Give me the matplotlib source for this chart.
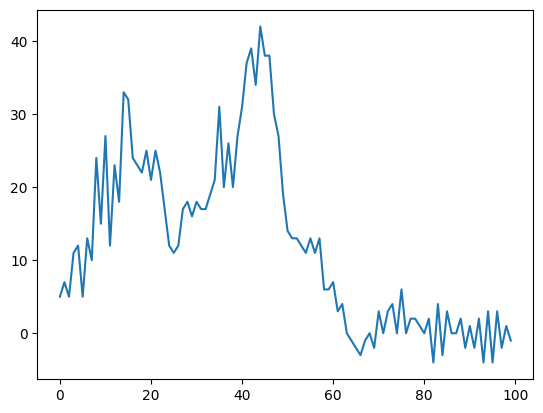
import matplotlib
matplotlib.use("Agg")
import matplotlib.pyplot as plt

# valeurs (x = 0..99)
valeurs = [5, 7, 5, 11, 12, 5, 13, 10, 24, 15,
           27, 12, 23, 18, 33, 32, 24, 23, 22, 25,
           21, 25, 22, 17, 12, 11, 12, 17, 18, 16,
           18, 17, 17, 19, 21, 31, 20, 26, 20, 27,
           31, 37, 39, 34, 42, 38, 38, 30, 27, 19,
           14, 13, 13, 12, 11, 13, 11, 13, 6, 6,
           7, 3, 4, 0, -1, -2, -3, -1, 0, -2,
           3, 0, 3, 4, 0, 6, 0, 2, 2, 1,
           0, 2, -4, 4, -3, 3, 0, 0, 2, -2,
           1, -2, 2, -4, 3, -4, 3, -2, 1, -1]
x = list(range(len(valeurs)))

plt.figure(figsize=(6.4, 4.8))
plt.plot(x, valeurs)
plt.savefig("out.png", dpi=100, bbox_inches="tight")
